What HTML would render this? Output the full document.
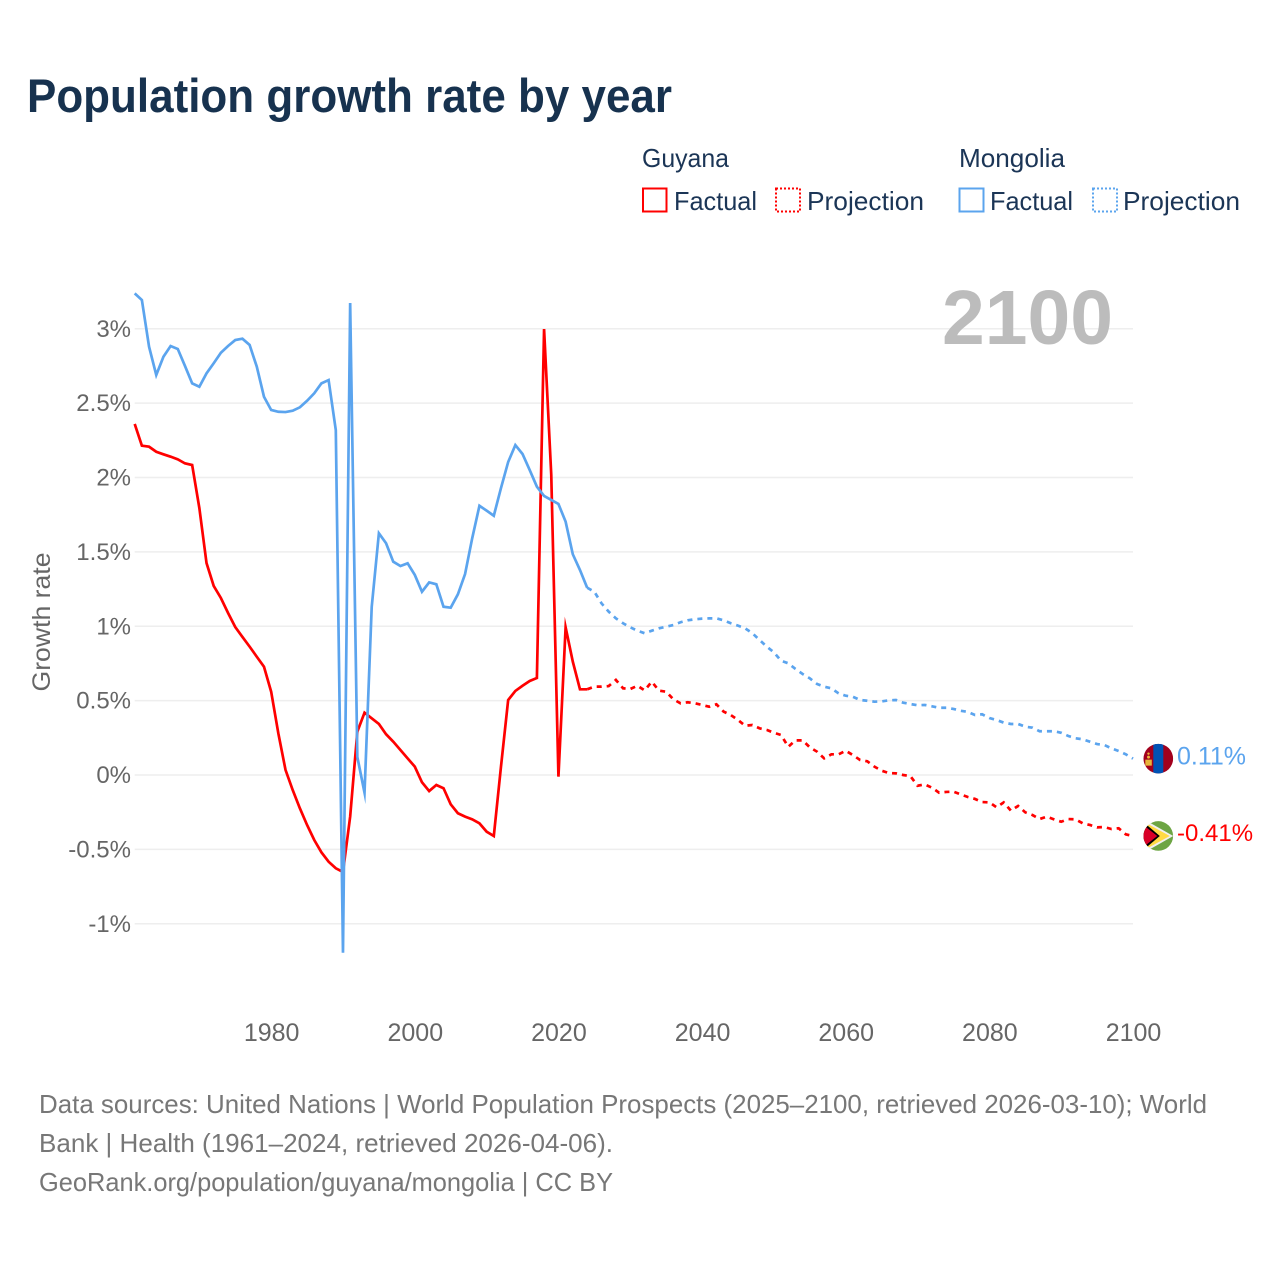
<!DOCTYPE html>
<html lang="en">
<head>
<meta charset="utf-8">
<title>Population growth rate by year</title>
<style>
  html, body { margin: 0; padding: 0; background: #ffffff; }
  svg { display: block; font-family: "Liberation Sans", sans-serif; }
</style>
</head>
<body>
<svg id="chart" xmlns="http://www.w3.org/2000/svg" width="1280" height="1280" viewBox="0 0 1280 1280">
  <rect width="1280" height="1280" fill="#ffffff"/>
  <text x="27" y="112" font-size="47" font-weight="700" fill="#17324f" textLength="645" lengthAdjust="spacingAndGlyphs">Population growth rate by year</text>

  <g font-size="26" fill="#1b3556">
    <text x="642" y="167" textLength="87" lengthAdjust="spacingAndGlyphs">Guyana</text>
    <text x="959" y="167" textLength="106" lengthAdjust="spacingAndGlyphs">Mongolia</text>
    <g>
      <rect x="643" y="188.5" width="23.5" height="23" fill="none" stroke="#ff0000" stroke-width="2"/>
      <text x="674" y="210" textLength="83" lengthAdjust="spacingAndGlyphs">Factual</text>
    </g>
    <g>
      <rect x="776" y="188.5" width="24" height="23" fill="none" stroke="#ff0000" stroke-width="2" stroke-dasharray="2 2"/>
      <text x="807" y="210" textLength="117" lengthAdjust="spacingAndGlyphs">Projection</text>
    </g>
    <g>
      <rect x="959.5" y="188.5" width="24" height="23" fill="none" stroke="#5ba4ee" stroke-width="2"/>
      <text x="990" y="210" textLength="83" lengthAdjust="spacingAndGlyphs">Factual</text>
    </g>
    <g>
      <rect x="1093" y="188.5" width="24" height="23" fill="none" stroke="#5ba4ee" stroke-width="2" stroke-dasharray="2 2"/>
      <text x="1123" y="210" textLength="117" lengthAdjust="spacingAndGlyphs">Projection</text>
    </g>
  </g>

  <g id="grid"></g>
  <g id="ytick-labels" font-size="24" fill="#666666" text-anchor="end"></g>
  <g id="xtick-labels" font-size="25" fill="#666666" text-anchor="middle"></g>
  <text transform="translate(50,622) rotate(-90)" font-size="25" fill="#666666" text-anchor="middle" textLength="139" lengthAdjust="spacingAndGlyphs">Growth rate</text>
  <text x="1113" y="344" font-size="77" font-weight="700" fill="#bcbcbc" text-anchor="end" textLength="171" lengthAdjust="spacingAndGlyphs">2100</text>

  <g id="series"></g>

  <defs>
    <clipPath id="flag-clip"><circle cx="0" cy="0" r="14.8"/></clipPath>
  </defs>
  <g id="flag-mongolia">
    <g clip-path="url(#flag-clip)">
      <rect x="-15" y="-15" width="30" height="30" fill="#a2001d"/>
      <rect x="-5" y="-15" width="10" height="30" fill="#0052b4"/>
      <rect x="-13" y="1" width="6.5" height="6" fill="#e8b53a"/>
      <circle cx="-9.8" cy="-1.5" r="1.5" fill="#e8b53a"/>
      <circle cx="-9.8" cy="-5" r="1.2" fill="#e8b53a"/>
    </g>
  </g>
  <g id="flag-guyana">
    <g clip-path="url(#flag-clip)">
      <rect x="-15" y="-15" width="30" height="30" fill="#6da544"/>
      <polygon points="-15,-17 15,0 -15,17" fill="#f0f0f0"/>
      <polygon points="-15,-14.5 11.5,0 -15,14.5" fill="#ffda44"/>
      <polygon points="-15,-14 1.5,0 -15,14" fill="#000000"/>
      <polygon points="-15,-11 -1,0 -15,11" fill="#d80027"/>
    </g>
  </g>
  <g id="end-labels" font-size="24"></g>

  <g font-size="26" fill="#777777">
    <text x="39" y="1113" textLength="1168" lengthAdjust="spacingAndGlyphs">Data sources: United Nations | World Population Prospects (2025–2100, retrieved 2026-03-10); World</text>
    <text x="39" y="1152" textLength="574" lengthAdjust="spacingAndGlyphs">Bank | Health (1961–2024, retrieved 2026-04-06).</text>
    <text x="39" y="1191" textLength="574" lengthAdjust="spacingAndGlyphs">GeoRank.org/population/guyana/mongolia | CC BY</text>
  </g>
</svg>

<script>
const yTickValues = [3, 2.5, 2, 1.5, 1, 0.5, 0, -0.5, -1];
const yTickLabels = ['3%', '2.5%', '2%', '1.5%', '1%', '0.5%', '0%', '-0.5%', '-1%'];
const xTickYears = [1980, 2000, 2020, 2040, 2060, 2080, 2100];
const factualStartYear = 1961;
const projectionStartYear = 2024;

const guyanaFactual = [
  2.360, 2.214, 2.207, 2.173, 2.156, 2.140, 2.122, 2.095, 2.084, 1.795,
  1.425, 1.271, 1.190, 1.089, 0.995, 0.928, 0.863, 0.795, 0.728, 0.560,
  0.280, 0.034, -0.101, -0.224, -0.336, -0.437, -0.520, -0.583, -0.627, -0.652,
  -0.280, 0.291, 0.419, 0.381, 0.343, 0.274, 0.224, 0.168, 0.112, 0.056,
  -0.049, -0.108, -0.067, -0.089, -0.197, -0.257, -0.280, -0.298, -0.325, -0.381,
  -0.410, 0.056, 0.504, 0.565, 0.600, 0.632, 0.652, 2.998, 2.017, -0.011,
  0.993, 0.762, 0.576, 0.576
];
const guyanaProjection = [
  0.576,
  0.594, 0.594, 0.598, 0.639, 0.583, 0.578, 0.600, 0.569, 0.627, 0.567,
  0.560, 0.509, 0.482, 0.489, 0.482, 0.471, 0.459, 0.475, 0.426, 0.403,
  0.370, 0.331, 0.336, 0.314, 0.303, 0.284, 0.269, 0.190, 0.233, 0.233,
  0.186, 0.157, 0.112, 0.139, 0.139, 0.163, 0.134, 0.101, 0.092, 0.056,
  0.029, 0.013, 0.011, 0.000, -0.007, -0.072, -0.063, -0.085, -0.119, -0.114,
  -0.112, -0.130, -0.148, -0.161, -0.182, -0.184, -0.217, -0.184, -0.240, -0.208,
  -0.251, -0.269, -0.296, -0.280, -0.298, -0.314, -0.296, -0.298, -0.325, -0.336,
  -0.352, -0.350, -0.363, -0.358, -0.399, -0.410
];
const mongoliaFactual = [
  3.238, 3.193, 2.879, 2.689, 2.812, 2.884, 2.864, 2.750, 2.633, 2.610,
  2.700, 2.768, 2.839, 2.884, 2.924, 2.933, 2.891, 2.745, 2.543, 2.454,
  2.442, 2.440, 2.449, 2.472, 2.516, 2.566, 2.633, 2.655, 2.319, -1.195,
  3.173, 0.121, -0.119, 1.130, 1.625, 1.558, 1.434, 1.405, 1.423, 1.345,
  1.232, 1.295, 1.282, 1.131, 1.125, 1.215, 1.351, 1.593, 1.810, 1.777,
  1.743, 1.929, 2.104, 2.218, 2.158, 2.050, 1.938, 1.876, 1.849, 1.822,
  1.703, 1.484, 1.378, 1.259
];
const mongoliaProjection = [
  1.259,
  1.232, 1.154, 1.098, 1.053, 1.020, 0.993, 0.970, 0.953, 0.970, 0.986,
  0.997, 1.008, 1.027, 1.040, 1.047, 1.051, 1.053, 1.053, 1.040, 1.020,
  1.004, 0.986, 0.953, 0.908, 0.863, 0.825, 0.768, 0.751, 0.713, 0.679,
  0.650, 0.612, 0.594, 0.583, 0.549, 0.533, 0.526, 0.504, 0.499, 0.493,
  0.495, 0.502, 0.504, 0.486, 0.477, 0.469, 0.471, 0.462, 0.452, 0.452,
  0.444, 0.432, 0.424, 0.403, 0.408, 0.383, 0.370, 0.352, 0.343, 0.343,
  0.325, 0.318, 0.294, 0.294, 0.294, 0.284, 0.262, 0.247, 0.240, 0.224,
  0.208, 0.202, 0.179, 0.161, 0.139, 0.110
];

const NS = 'http://www.w3.org/2000/svg';
const plotLeft = 134.7;
const plotRight = 1133;
const RED = '#ff0000';
const BLUE = '#5ba4ee';

function xScale(year) {
  return plotLeft + (year - 1961) * (plotRight - plotLeft) / (2100 - 1961);
}
function yScale(value) {
  return 775 - value * 148.75;
}
function pathFor(values, startYear) {
  return values.map(function (v, i) {
    return (i ? 'L' : 'M') + xScale(startYear + i).toFixed(2) + ' ' + yScale(v).toFixed(2);
  }).join(' ');
}

const gridLayer = document.getElementById('grid');
const yLabelLayer = document.getElementById('ytick-labels');
yTickValues.forEach(function (v, i) {
  const line = document.createElementNS(NS, 'line');
  
  
  line.setAttribute('x1', plotLeft);
  line.setAttribute('x2', plotRight);
  line.setAttribute('y1', yScale(v));
  line.setAttribute('y2', yScale(v));
  line.setAttribute('stroke', '#eeeeee');
  line.setAttribute('stroke-width', '1.5');
  gridLayer.appendChild(line);

  const label = document.createElementNS(NS, 'text');
  
  
  label.setAttribute('x', 131);
  label.setAttribute('y', yScale(v) + 8);
  label.textContent = yTickLabels[i];
  yLabelLayer.appendChild(label);
});

const xLabelLayer = document.getElementById('xtick-labels');
xTickYears.forEach(function (year) {
  const label = document.createElementNS(NS, 'text');
  
  
  label.setAttribute('x', xScale(year) + 0.5);
  label.setAttribute('y', 1041);
  label.textContent = String(year);
  xLabelLayer.appendChild(label);
});

const seriesLayer = document.getElementById('series');
function addLine(values, startYear, color, dashed, name) {
  const path = document.createElementNS(NS, 'path');
  
  
  path.setAttribute('d', pathFor(values, startYear));
  path.setAttribute('fill', 'none');
  path.setAttribute('stroke', color);
  path.setAttribute('stroke-width', '2.7');
  path.setAttribute('stroke-miterlimit', '12');
  if (dashed) {
    path.setAttribute('stroke-dasharray', '5 5');
  }
  seriesLayer.appendChild(path);
}
addLine(guyanaProjection, projectionStartYear, RED, true, 'guyana-projection-line');
addLine(guyanaFactual, factualStartYear, RED, false, 'guyana-factual-line');
addLine(mongoliaProjection, projectionStartYear, BLUE, true, 'mongolia-projection-line');
addLine(mongoliaFactual, factualStartYear, BLUE, false, 'mongolia-factual-line');

const lastMongolia = mongoliaProjection[mongoliaProjection.length - 1];
const lastGuyana = guyanaProjection[guyanaProjection.length - 1];
document.getElementById('flag-mongolia').setAttribute('transform', 'translate(1158.3,' + yScale(lastMongolia) + ')');
document.getElementById('flag-guyana').setAttribute('transform', 'translate(1158.3,' + yScale(lastGuyana) + ')');

const endLayer = document.getElementById('end-labels');
const mongoliaEnd = document.createElementNS(NS, 'text');


mongoliaEnd.setAttribute('x', 1177);
mongoliaEnd.setAttribute('y', yScale(lastMongolia) + 6);
mongoliaEnd.setAttribute('fill', BLUE);
mongoliaEnd.setAttribute('font-size', '25');
mongoliaEnd.textContent = lastMongolia.toFixed(2) + '%';
endLayer.appendChild(mongoliaEnd);

const guyanaEnd = document.createElementNS(NS, 'text');


guyanaEnd.setAttribute('x', 1177);
guyanaEnd.setAttribute('y', yScale(lastGuyana) + 5);
guyanaEnd.setAttribute('fill', RED);
guyanaEnd.textContent = lastGuyana.toFixed(2) + '%';
endLayer.appendChild(guyanaEnd);
</script>
</body>
</html>
